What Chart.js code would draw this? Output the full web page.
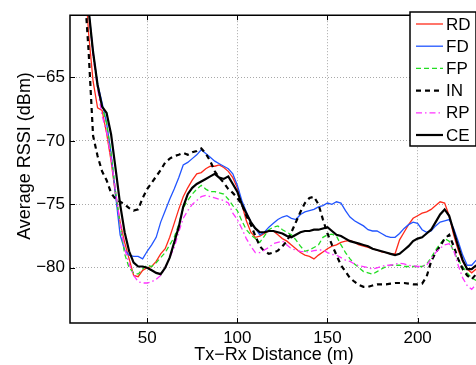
<!DOCTYPE html>
<html><head><meta charset="utf-8">
<script src="https://cdn.jsdelivr.net/npm/chart.js@4.4.0/dist/chart.umd.min.js"></script>
<style>
html,body{margin:0;padding:0;background:#fff;overflow:hidden;width:476px;height:365px}
#wrap{position:absolute;left:0;top:0;width:484px;height:365px}
</style>
</head><body><div id="wrap"><canvas id="c" width="484" height="365"></canvas></div>
<script>
// Tx-Rx distance (m)
const distance = [15,17.5,20,22.5,25,27.5,30,32.5,35,37.5,
 40,42.5,45,47.5,50,52.5,55,57.5,60,62.5,
 65,67.5,70,72.5,75,77.5,80,82.5,85,87.5,
 90,92.5,95,97.5,100,102.5,105,107.5,110,112.5,
 115,117.5,120,122.5,125,127.5,130,132.5,135,137.5,
 140,142.5,145,147.5,150,152.5,155,157.5,160,162.5,
 165,167.5,170,172.5,175,177.5,180,182.5,185,187.5,
 190,192.5,195,197.5,200,202.5,205,207.5,210,212.5,
 215,217.5,220,222.5,225,227.5,230,232.5];

// Average RSSI (dBm) per method
const rd = [-56.0,-61.5,-65.3,-67.4,-67.6,-69.4,-71.6,-74.3,-76.4,-78.0,
 -79.3,-80.6,-80.7,-80.2,-80.0,-79.9,-79.5,-78.9,-78.5,-77.6,
 -76.5,-75.4,-74.4,-73.7,-73.1,-72.6,-72.5,-72.2,-72.0,-72.0,
 -71.9,-72.1,-72.4,-72.9,-73.7,-75.0,-76.3,-77.2,-77.6,-77.5,
 -77.3,-77.1,-77.1,-77.4,-77.7,-77.9,-78.2,-78.5,-78.8,-79.0,
 -79.1,-79.3,-79.0,-78.75,-78.5,-78.3,-78.2,-78.0,-77.9,-77.85,
 -78.0,-78.2,-78.3,-78.4,-78.5,-78.6,-78.75,-78.8,-78.9,-78.9,
 -77.8,-77.2,-76.6,-76.1,-75.9,-75.7,-75.6,-75.4,-75.1,-74.8,
 -74.9,-75.9,-77.4,-78.6,-79.5,-80.1,-80.4,-80.1];
const fd = [-56.5,-59.6,-63.0,-65.5,-67.0,-68.6,-71.0,-74.3,-77.4,-78.6,
 -79.0,-79.1,-79.1,-79.3,-78.7,-78.2,-77.6,-76.4,-75.5,-74.6,
 -73.8,-72.9,-71.9,-71.7,-71.4,-71.1,-70.7,-71.0,-71.3,-71.6,
 -71.8,-72.0,-72.2,-72.6,-73.5,-74.7,-75.6,-76.4,-76.9,-77.4,
 -77.2,-76.8,-76.5,-76.2,-76.0,-75.9,-76.1,-76.2,-75.8,-75.6,
 -75.5,-75.4,-75.2,-75.1,-74.9,-75.0,-74.8,-74.9,-75.5,-76.0,
 -76.3,-76.5,-76.7,-77.0,-77.1,-77.1,-77.3,-77.5,-77.6,-77.6,
 -77.3,-76.9,-76.6,-76.4,-76.5,-77.0,-77.2,-77.1,-76.7,-76.4,
 -76.3,-76.2,-76.9,-77.9,-79.0,-79.8,-79.8,-79.4];
const fp = [-56.5,-59.7,-63.2,-65.7,-67.3,-68.6,-71.0,-74.0,-76.6,-78.9,
 -80.0,-80.4,-80.5,-80.1,-79.8,-79.9,-79.6,-79.2,-78.8,-78.2,
 -77.6,-76.6,-75.3,-74.7,-74.2,-73.8,-73.5,-73.8,-74.0,-74.0,
 -74.1,-74.2,-74.6,-75.1,-75.5,-76.3,-77.0,-77.4,-77.7,-78.0,
 -77.5,-77.0,-76.8,-76.7,-77.0,-77.2,-77.4,-77.8,-78.3,-78.7,
 -78.6,-78.4,-78.2,-77.6,-77.4,-77.35,-77.5,-78.2,-78.8,-79.3,
 -79.7,-80.0,-80.3,-80.4,-80.5,-80.3,-80.1,-79.9,-79.8,-79.8,
 -79.8,-79.9,-79.9,-79.9,-79.9,-79.9,-79.7,-79.2,-78.6,-78.1,
 -77.7,-77.9,-78.7,-79.4,-79.9,-80.4,-80.8,-81.0];
const inn = [-57.5,-62.9,-69.6,-71.2,-72.4,-73.1,-74.1,-74.6,-74.8,-75.0,
 -75.3,-75.5,-75.4,-74.5,-73.8,-73.3,-72.8,-72.3,-71.7,-71.4,
 -71.2,-71.1,-70.95,-71.1,-70.9,-70.8,-70.6,-71.0,-71.6,-72.4,
 -72.9,-73.3,-73.8,-74.1,-74.5,-75.0,-75.9,-76.6,-77.5,-78.3,
 -78.7,-78.9,-78.8,-78.65,-78.3,-77.9,-77.2,-76.4,-75.6,-74.9,
 -74.5,-74.4,-75.0,-76.2,-77.3,-78.2,-79.0,-79.8,-80.3,-80.8,
 -81.1,-81.35,-81.5,-81.5,-81.4,-81.3,-81.3,-81.3,-81.25,-81.2,
 -81.2,-81.2,-81.25,-81.3,-81.3,-81.25,-80.7,-79.5,-78.8,-78.3,
 -77.7,-77.4,-78.3,-79.3,-80.1,-80.6,-80.9,-80.5];
const rp = [-56.5,-59.7,-63.3,-65.9,-68.0,-69.3,-71.4,-74.0,-76.5,-78.5,
 -79.7,-80.6,-81.1,-81.2,-81.2,-81.1,-80.9,-80.6,-80.0,-79.2,
 -78.4,-77.2,-76.1,-75.5,-75.0,-74.7,-74.4,-74.3,-74.4,-74.5,
 -74.6,-74.7,-74.9,-75.7,-76.2,-76.9,-77.7,-78.3,-78.8,-78.8,
 -78.6,-78.4,-78.1,-78.0,-77.9,-78.2,-78.5,-78.6,-78.7,-78.75,
 -78.75,-78.65,-78.6,-78.6,-78.8,-78.95,-79.0,-79.2,-79.4,-79.5,
 -79.7,-79.85,-79.9,-80.0,-80.1,-80.0,-79.9,-79.8,-79.8,-79.7,
 -79.65,-79.7,-79.8,-79.85,-79.9,-79.9,-79.8,-79.3,-78.8,-78.45,
 -78.2,-78.1,-78.6,-79.8,-80.8,-81.4,-81.7,-81.3];
const ce = [-56.5,-59.6,-63.0,-65.6,-67.3,-67.8,-69.5,-72.2,-75.0,-77.2,
 -78.7,-79.6,-79.9,-79.9,-80.0,-80.2,-80.4,-80.5,-80.0,-79.2,
 -78.0,-76.8,-75.2,-74.2,-73.7,-73.4,-73.2,-73.0,-72.8,-72.6,
 -72.9,-73.0,-72.8,-73.4,-74.0,-75.0,-75.7,-76.4,-76.9,-77.2,
 -77.2,-77.1,-77.1,-77.2,-77.3,-77.5,-77.6,-77.4,-77.2,-77.1,
 -77.1,-77.0,-77.0,-76.9,-76.8,-77.1,-77.4,-77.5,-77.7,-77.9,
 -78.0,-78.1,-78.2,-78.3,-78.5,-78.6,-78.7,-78.8,-78.9,-79.0,
 -78.9,-78.6,-78.3,-77.9,-77.7,-77.6,-77.3,-77.0,-76.4,-75.8,
 -75.4,-75.9,-77.1,-78.3,-79.4,-80.1,-80.1,-79.8];

const seriesNames = ['RD','FD','FP','IN','RP','CE'];
const seriesValues = [rd, fd, fp, inn, rp, ce];
const xTicks = [50, 100, 150, 200];
const yTicks = [-80, -75, -70, -65];
const xTitle = 'Tx\u2212Rx Distance (m)';
const yTitle = 'Average RSSI (dBm)';

const FONT = '"Liberation Sans", Arial, Helvetica, sans-serif';
const styles = [
  {color:'#ff2a1a', width:1.3, dash:[]},
  {color:'#2255ff', width:1.3, dash:[]},
  {color:'#22dd22', width:1.3, dash:[5,3]},
  {color:'#000000', width:2.2, dash:[5,4]},
  {color:'#ff33ff', width:1.3, dash:[6,3,1.5,3]},
  {color:'#000000', width:2.2, dash:[]}
];

const datasets = seriesNames.map((name, k) => ({
  label: name,
  data: distance.map((d, i) => ({x: d, y: seriesValues[k][i]})),
  borderColor: styles[k].color,
  borderWidth: styles[k].width,
  borderDash: styles[k].dash,
  pointRadius: 0,
  tension: 0,
  fill: false,
  order: seriesNames.length - k
}));

const framePlugin = {
  id: 'frame',
  afterDraw(chart) {
    const ctx = chart.ctx;
    const a = chart.chartArea;
    const xs = chart.scales.x, ys = chart.scales.y;
    ctx.save();
    // axes box
    ctx.strokeStyle = '#000';
    ctx.lineWidth = 1.5;
    ctx.beginPath();
    ctx.moveTo(a.left, a.top); ctx.lineTo(a.right, a.top);
    ctx.lineTo(a.right, a.bottom); ctx.lineTo(a.left, a.bottom); ctx.closePath();
    ctx.stroke();
    // inward ticks
    ctx.lineWidth = 1;
    ctx.beginPath();
    xTicks.forEach(v => {
      const p = Math.round(xs.getPixelForValue(v)) + 0.5;
      ctx.moveTo(p, a.bottom); ctx.lineTo(p, a.bottom - 5);
      ctx.moveTo(p, a.top); ctx.lineTo(p, a.top + 5);
    });
    yTicks.forEach(v => {
      const p = Math.round(ys.getPixelForValue(v)) + 0.5;
      ctx.moveTo(a.left, p); ctx.lineTo(a.left + 5, p);
    });
    ctx.stroke();
    // legend
    const lx = 410, ly = 12, lw = 66, lh = 134;
    ctx.fillStyle = '#fff';
    ctx.fillRect(lx, ly, lw, lh);
    ctx.lineWidth = 1.5;
    ctx.strokeStyle = '#000';
    ctx.strokeRect(lx, ly, lw, lh);
    ctx.font = '17px ' + FONT;
    ctx.textBaseline = 'middle';
    ctx.textAlign = 'left';
    seriesNames.forEach((name, k) => {
      const y = 24 + k * 22.2;
      ctx.strokeStyle = styles[k].color;
      ctx.lineWidth = styles[k].width;
      ctx.setLineDash(styles[k].dash);
      ctx.beginPath();
      ctx.moveTo(416, y); ctx.lineTo(443, y);
      ctx.stroke();
      ctx.setLineDash([]);
      ctx.fillStyle = '#000';
      ctx.fillText(name, 446, y + 1);
    });
    // axis titles
    ctx.font = '18px ' + FONT;
    ctx.fillStyle = '#000';
    ctx.textAlign = 'center';
    ctx.textBaseline = 'alphabetic';
    ctx.fillText(xTitle, 274, 360);
    ctx.translate(29.5, 156);
    ctx.rotate(-Math.PI / 2);
    ctx.fillText(yTitle, 0, 0);
    ctx.restore();
  }
};

new Chart(document.getElementById('c'), {
  type: 'line',
  data: { datasets },
  options: {
    responsive: false,
    animation: false,
    devicePixelRatio: 1,
    layout: { padding: { left: 0, right: 6, top: 7, bottom: 0 } },
    plugins: { legend: { display: false }, tooltip: { enabled: false } },
    scales: {
      x: {
        type: 'linear', min: 7.2, max: 233.5,
        afterBuildTicks: s => { s.ticks = xTicks.map(v => ({ value: v })); },
        afterFit: s => { s.height = 42; },
        grid: { color: '#a8a8a8', drawTicks: false, lineWidth: 1 },
        border: { display: false, dash: [1, 2] },
        ticks: { font: { family: FONT, size: 17 }, color: '#000', padding: 5, maxRotation: 0, autoSkip: false }
      },
      y: {
        type: 'linear', min: -84.35, max: -60.1,
        afterBuildTicks: s => { s.ticks = yTicks.map(v => ({ value: v })); },
        afterFit: s => { s.width = 70; },
        grid: { color: '#a8a8a8', drawTicks: false, lineWidth: 1 },
        border: { display: false, dash: [1, 2] },
        ticks: { font: { family: FONT, size: 17 }, color: '#000', padding: 5,
                 callback: v => '\u2212' + Math.abs(v) }
      }
    }
  },
  plugins: [framePlugin]
});
</script>
</body></html>
